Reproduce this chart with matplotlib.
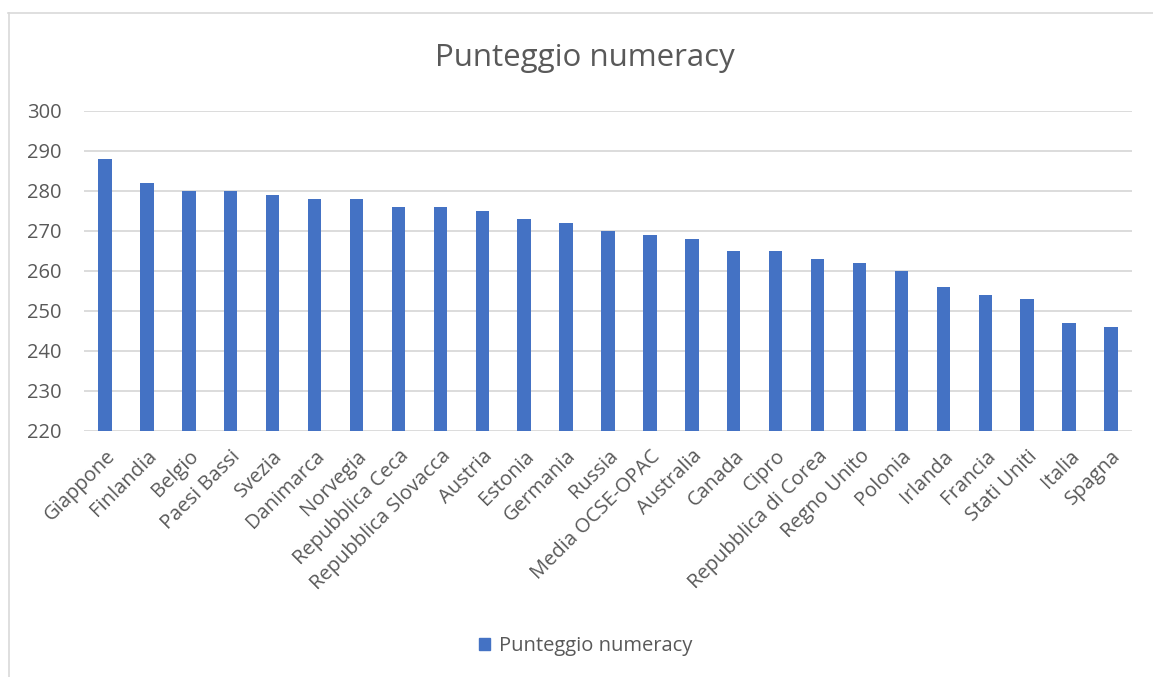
import matplotlib
matplotlib.use("Agg")
import matplotlib.pyplot as plt
from matplotlib.lines import Line2D
from matplotlib.patches import Patch
from matplotlib.transforms import ScaledTranslation

plt.rcParams['font.family'] = ['Open Sans', 'DejaVu Sans']

paesi = ["Giappone", "Finlandia", "Belgio", "Paesi Bassi", "Svezia", "Danimarca",
         "Norvegia", "Repubblica Ceca", "Repubblica Slovacca", "Austria", "Estonia",
         "Germania", "Russia", "Media OCSE-OPAC", "Australia", "Canada", "Cipro",
         "Repubblica di Corea", "Regno Unito", "Polonia", "Irlanda", "Francia",
         "Stati Uniti", "Italia", "Spagna"]
punteggi = [288, 282, 280, 280, 279, 278, 278, 276, 276, 275, 273, 272, 270, 269,
            268, 265, 265, 263, 262, 260, 256, 254, 253, 247, 246]
yticks = [220, 230, 240, 250, 260, 270, 280, 290, 300]

W, H = 1153, 677
GRAY_TEXT = "#595959"
GRAY_LINE = "#D9D9D9"
BLUE = "#4472C4"

fig = plt.figure(figsize=(W / 100, H / 100), dpi=100)

# chart area frame (top and left edges)
fig.add_artist(Line2D([8 / W, 1.0], [1 - 12.5 / H, 1 - 12.5 / H],
                      transform=fig.transFigure, color=GRAY_LINE, linewidth=1.2))
fig.add_artist(Line2D([8.5 / W, 8.5 / W], [0.0, 1 - 12.5 / H],
                      transform=fig.transFigure, color=GRAY_LINE, linewidth=1.2))

ax = fig.add_axes([84 / W, 1 - 431 / H, (1132 - 84) / W, (431 - 111) / H])
x = list(range(len(paesi)))
ax.bar(x, [v - 220 for v in punteggi], bottom=220, width=0.32, color=BLUE,
       zorder=3)
ax.set_xlim(-0.5, len(paesi) - 0.5)
ax.set_ylim(220, 300)
ax.set_yticks(yticks)
ax.set_yticklabels([str(t) for t in yticks], fontsize=14.5, color=GRAY_TEXT)
ax.yaxis.grid(True, color=GRAY_LINE, linewidth=1.3, zorder=0)
ax.set_axisbelow(True)
for s in ax.spines.values():
    s.set_visible(False)
ax.tick_params(axis="y", length=0, pad=16)
ax.tick_params(axis="x", length=0, pad=11)
ax.set_xticks(x)
ax.set_xticklabels(paesi, rotation=45, ha="right", va="top", rotation_mode="anchor",
                   fontsize=14.5, color=GRAY_TEXT)
shift = ScaledTranslation(0, 0, fig.dpi_scale_trans)
for lbl in ax.get_xticklabels():
    lbl.set_transform(lbl.get_transform() + shift)

fig.text(585 / W, 1 - 58 / H, "Punteggio numeracy", ha="center", va="center",
         fontsize=22.5, color=GRAY_TEXT)

fig.legend(handles=[Patch(color=BLUE, label="Punteggio numeracy")],
           loc="center", bbox_to_anchor=(586 / W, 1 - 646 / H), frameon=False,
           fontsize=14.5, labelcolor=GRAY_TEXT, handlelength=0.55, handleheight=0.55,
           handletextpad=0.45)

fig.savefig("out.png", dpi=100)
